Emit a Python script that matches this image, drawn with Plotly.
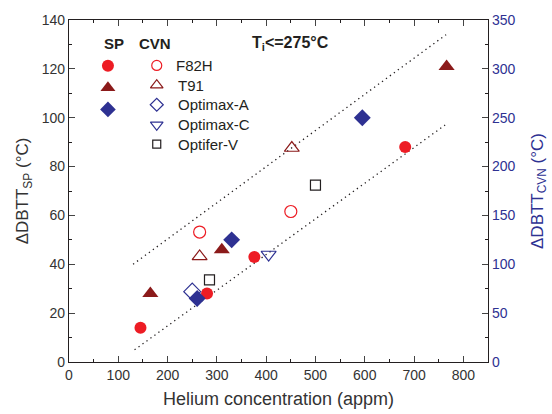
import plotly.graph_objects as go

# ---- data ----
f82h_sp_x = [145, 280, 376, 682]
f82h_sp_y = [14, 28, 43, 88]
t91_sp_x = [165, 310, 766]
t91_sp_y = [28, 46, 121]
optA_sp_x = [260, 330, 595]
optA_sp_y = [26, 50, 100]

f82h_cvn_x = [265, 450]
f82h_cvn_y = [133, 154]
t91_cvn_x = [265, 452]
t91_cvn_y = [108, 219]
optA_cvn_x = [250]
optA_cvn_y = [72]
optC_cvn_x = [405]
optC_cvn_y = [110]
optV_cvn_x = [285, 500]
optV_cvn_y = [84, 181]

upper_x = [130, 765]
upper_y = [40, 134]
lower_x = [133, 763]
lower_y = [5, 97]

RED = "#ed1c24"
DRED = "#8b1a1a"
BLUE = "#2e3192"
BLACK = "#231f20"
FONT = "Liberation Sans, Arial, sans-serif"

fig = go.Figure()

def dline(x, y):
    fig.add_trace(go.Scatter(x=x, y=y, mode="lines", line=dict(color=BLACK, width=1.3, dash="1.3px,3.6px"),
                             showlegend=False, hoverinfo="skip"))

dline(upper_x, upper_y)
dline(lower_x, lower_y)

def sp(x, y, sym, color, size):
    fig.add_trace(go.Scatter(x=x, y=y, mode="markers", showlegend=False, cliponaxis=False,
                             marker=dict(symbol=sym, color=color, size=size, line=dict(width=0))))

def cvn(x, y, sym, color, size):
    fig.add_trace(go.Scatter(x=x, y=y, mode="markers", yaxis="y2", showlegend=False, cliponaxis=False,
                             marker=dict(symbol=sym, color=color, size=size, line=dict(width=1.2, color=color))))

sp(f82h_sp_x, f82h_sp_y, "circle", RED, 12)
sp(t91_sp_x, t91_sp_y, "triangle-up", DRED, 14)
sp(optA_sp_x, optA_sp_y, "diamond", BLUE, 13)

cvn(f82h_cvn_x, f82h_cvn_y, "circle-open", RED, 12)
cvn(t91_cvn_x, t91_cvn_y, "triangle-up-open", DRED, 13)
cvn(optA_cvn_x, optA_cvn_y, "diamond-open", BLUE, 13)
cvn(optC_cvn_x, optC_cvn_y, "triangle-down-open", BLUE, 13)
cvn(optV_cvn_x, optV_cvn_y, "square-open", BLACK, 10)

# ---- custom legend (in data coords of left axis) ----
leg_sp = [("circle", RED, 12, 121.3), ("triangle-up", DRED, 13, 112.3), ("diamond", BLUE, 12, 103.4)]
for sym, col, sz, yy in leg_sp:
    fig.add_trace(go.Scatter(x=[79], y=[yy], mode="markers", showlegend=False, hoverinfo="skip",
                             marker=dict(symbol=sym, color=col, size=sz, line=dict(width=0))))
leg_cvn = [("circle-open", RED, 10, 121.4, "F82H", 212),
           ("triangle-up-open", DRED, 11, 113.3, "T91", 218),
           ("diamond-open", BLUE, 10, 105.3, "Optimax-A", 218),
           ("triangle-down-open", BLUE, 11, 97.1, "Optimax-C", 218),
           ("square-open", BLACK, 8, 89.2, "Optifer-V", 218)]
annotations = []
for sym, col, sz, yy, lab, lx in leg_cvn:
    fig.add_trace(go.Scatter(x=[178], y=[yy], mode="markers", showlegend=False, hoverinfo="skip",
                             marker=dict(symbol=sym, color=col, size=sz, line=dict(width=1.2, color=col))))
    annotations.append(dict(x=lx, y=yy, xref="x", yref="y", text=lab, showarrow=False, xanchor="left",
                            yanchor="middle", font=dict(family=FONT, size=15, color=BLACK)))

annotations.append(dict(x=91, y=130.2, xref="x", yref="y", text="<b>SP</b>", showarrow=False,
                        xanchor="center", yanchor="middle", font=dict(family=FONT, size=15, color=BLACK)))
annotations.append(dict(x=174, y=130.2, xref="x", yref="y", text="<b>CVN</b>", showarrow=False,
                        xanchor="center", yanchor="middle", font=dict(family=FONT, size=15, color=BLACK)))
annotations.append(dict(x=368, y=130.2, xref="x", yref="y", text="<b>T<sub>i</sub>&lt;=275°C</b>", showarrow=False,
                        xanchor="left", yanchor="middle", font=dict(family=FONT, size=16, color=BLACK)))

fig.update_layout(
    width=552, height=414,
    margin=dict(l=69, r=64, t=20, b=52),
    paper_bgcolor="white", plot_bgcolor="white",
    font=dict(family=FONT, size=14, color="#333"),
    annotations=annotations,
    xaxis=dict(range=[0, 850], dtick=100, tick0=0, ticks="inside", ticklen=6, tickwidth=1, automargin=False,
               showline=True, linecolor=BLACK, linewidth=1.2, mirror="ticks", showgrid=False, zeroline=False,
               minor=dict(ticks="inside", dtick=50, ticklen=3, tickcolor=BLACK),
               tickfont=dict(family=FONT, size=14, color="#333"),
               title=dict(text="Helium concentration (appm)", font=dict(family=FONT, size=18, color="#333"), standoff=10)),
    yaxis=dict(range=[0, 140], dtick=20, ticks="inside", ticklen=6, tickwidth=1, automargin=False,
               showline=True, linecolor=BLACK, linewidth=1.2, showgrid=False, zeroline=False,
               minor=dict(ticks="inside", dtick=10, ticklen=3, tickcolor=BLACK),
               tickfont=dict(family=FONT, size=14, color="#333"),
               title=dict(text="ΔDBTT<sub>SP</sub> (°C)", font=dict(family=FONT, size=17, color="#333"), standoff=8)),
    yaxis2=dict(range=[0, 350], dtick=50, overlaying="y", side="right", ticks="inside", ticklen=6, tickwidth=1,
                automargin=False,
                showline=True, linecolor=BLACK, linewidth=1.2, showgrid=False, zeroline=False,
                minor=dict(ticks="inside", dtick=25, ticklen=3, tickcolor=BLACK),
                tickfont=dict(family=FONT, size=14, color=BLUE),
                title=dict(text="ΔDBTT<sub>CVN</sub> (°C)", font=dict(family=FONT, size=17, color=BLUE), standoff=16)),
)

fig.write_html("out.html")
